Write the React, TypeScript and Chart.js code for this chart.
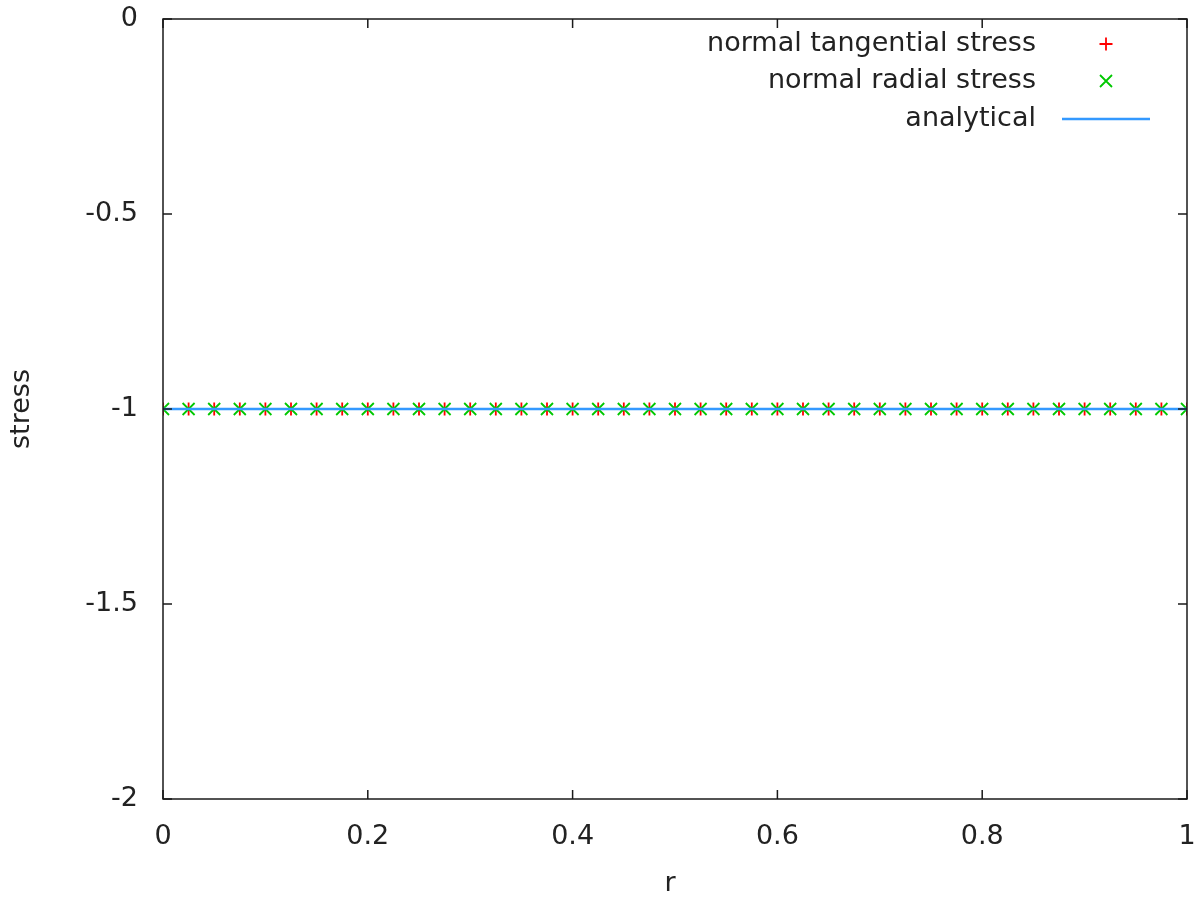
import React, { useEffect, useRef } from "react";
import { Chart, registerables } from "chart.js";

Chart.register(...registerables);

const rValues = [
  0, 0.025, 0.05, 0.075, 0.1, 0.125, 0.15, 0.175, 0.2, 0.225,
  0.25, 0.275, 0.3, 0.325, 0.35, 0.375, 0.4, 0.425, 0.45, 0.475,
  0.5, 0.525, 0.55, 0.575, 0.6, 0.625, 0.65, 0.675, 0.7, 0.725,
  0.75, 0.775, 0.8, 0.825, 0.85, 0.875, 0.9, 0.925, 0.95, 0.975, 1,
];
const tangentialStress = [
  -1, -1, -1, -1, -1, -1, -1, -1, -1, -1,
  -1, -1, -1, -1, -1, -1, -1, -1, -1, -1,
  -1, -1, -1, -1, -1, -1, -1, -1, -1, -1,
  -1, -1, -1, -1, -1, -1, -1, -1, -1, -1, -1,
];
const radialStress = [
  -1, -1, -1, -1, -1, -1, -1, -1, -1, -1,
  -1, -1, -1, -1, -1, -1, -1, -1, -1, -1,
  -1, -1, -1, -1, -1, -1, -1, -1, -1, -1,
  -1, -1, -1, -1, -1, -1, -1, -1, -1, -1, -1,
];
const analyticalR = [0, 1];
const analyticalStress = [-1, -1];

const xTickValues = [0, 0.2, 0.4, 0.6, 0.8, 1];
const yTickValues = [0, -0.5, -1, -1.5, -2];
const xTickLabels = ["0", "0.2", "0.4", "0.6", "0.8", "1"];
const yTickLabels = ["0", "-0.5", "-1", "-1.5", "-2"];

const seriesLabels = ["normal tangential stress", "normal radial stress", "analytical"];
const xTitle = "r";
const yTitle = "stress";

const FONT_FAMILY = "'DejaVu Sans', sans-serif";
const FONT_SIZE = 27;
const TEXT_COLOR = "#222222";
const RED = "#ff0000";
const GREEN = "#00c800";
const BLUE = "#3399ff";

const framePlugin = {
  id: "gnuplotFrame",
  afterDatasetsDraw(chart: any) {
    const { ctx, chartArea } = chart;
    const { left, right, top, bottom } = chartArea;
    const xs = chart.scales.x;
    const ys = chart.scales.y;
    const tl = 9;
    ctx.save();
    ctx.strokeStyle = "#1a1a1a";
    ctx.lineWidth = 1.5;
    ctx.beginPath();
    xTickValues.forEach((v) => {
      const px = xs.getPixelForValue(v);
      ctx.moveTo(px, bottom);
      ctx.lineTo(px, bottom - tl);
      ctx.moveTo(px, top);
      ctx.lineTo(px, top + tl);
    });
    yTickValues.forEach((v) => {
      const py = ys.getPixelForValue(v);
      ctx.moveTo(left, py);
      ctx.lineTo(left + tl, py);
      ctx.moveTo(right, py);
      ctx.lineTo(right - tl, py);
    });
    ctx.stroke();
    ctx.strokeRect(left, top, right - left, bottom - top);

    // axis titles
    ctx.fillStyle = TEXT_COLOR;
    ctx.font = `${FONT_SIZE}px ${FONT_FAMILY}`;
    ctx.textAlign = "center";
    ctx.textBaseline = "middle";
    ctx.fillText(xTitle, (left + right) / 2 - 5, 884);
    ctx.save();
    ctx.translate(22, (top + bottom) / 2);
    ctx.rotate(-Math.PI / 2);
    ctx.fillText(yTitle, 0, 0);
    ctx.restore();

    // legend
    const textRight = 1036;
    const sampleX = 1106;
    const rows = [44, 81, 119];
    ctx.textAlign = "right";
    seriesLabels.forEach((lab, i) => {
      ctx.fillText(lab, textRight, rows[i]);
    });
    const s = 6.5;
    const d = 6;
    ctx.lineWidth = 1.8;
    ctx.strokeStyle = RED;
    ctx.beginPath();
    ctx.moveTo(sampleX - s, rows[0]);
    ctx.lineTo(sampleX + s, rows[0]);
    ctx.moveTo(sampleX, rows[0] - s);
    ctx.lineTo(sampleX, rows[0] + s);
    ctx.stroke();
    ctx.strokeStyle = GREEN;
    ctx.beginPath();
    ctx.moveTo(sampleX - d, rows[1] - d);
    ctx.lineTo(sampleX + d, rows[1] + d);
    ctx.moveTo(sampleX - d, rows[1] + d);
    ctx.lineTo(sampleX + d, rows[1] - d);
    ctx.stroke();
    ctx.strokeStyle = BLUE;
    ctx.lineWidth = 2.5;
    ctx.beginPath();
    ctx.moveTo(1062, rows[2]);
    ctx.lineTo(1150, rows[2]);
    ctx.stroke();
    ctx.restore();
  },
};

export default function App() {
  const canvasRef = useRef<HTMLCanvasElement | null>(null);

  useEffect(() => {
    const canvas = canvasRef.current;
    if (!canvas) return;
    const chart = new Chart(canvas, {
      type: "scatter",
      data: {
        datasets: [
          {
            type: "line",
            label: seriesLabels[2],
            data: analyticalR.map((x, i) => ({ x, y: analyticalStress[i] })),
            borderColor: BLUE,
            borderWidth: 2.5,
            pointRadius: 0,
            showLine: true,
            fill: false,
            order: 0,
          } as any,
          {
            label: seriesLabels[1],
            data: rValues.map((x, i) => ({ x, y: radialStress[i] })),
            pointStyle: "crossRot",
            pointRadius: 8.5,
            borderColor: GREEN,
            backgroundColor: GREEN,
            pointBorderWidth: 1.8,
            order: 1,
          },
          {
            label: seriesLabels[0],
            data: rValues.map((x, i) => ({ x, y: tangentialStress[i] })),
            pointStyle: "cross",
            pointRadius: 6.5,
            borderColor: RED,
            backgroundColor: RED,
            pointBorderWidth: 1.8,
            order: 2,
          },
        ],
      },
      options: {
        responsive: false,
        animation: false,
        events: [],
        layout: { padding: { left: 0, top: 19, right: 11, bottom: 0 } },
        plugins: {
          legend: { display: false },
          tooltip: { enabled: false },
        },
        scales: {
          x: {
            type: "linear",
            min: 0,
            max: 1,
            grid: { display: false, drawTicks: false, tickLength: 0 },
            border: { display: false },
            afterBuildTicks: (scale: any) => {
              scale.ticks = xTickValues.map((v) => ({ value: v }));
            },
            afterFit: (scale: any) => {
              scale.height = 103;
              scale.paddingLeft = 0;
              scale.paddingRight = 0;
            },
            ticks: {
              padding: 22,
              color: TEXT_COLOR,
              font: { family: FONT_FAMILY, size: FONT_SIZE },
              maxRotation: 0,
              autoSkip: false,
              callback: (v: any) => xTickLabels[xTickValues.indexOf(Number(v))] ?? "",
            },
          },
          y: {
            type: "linear",
            min: -2,
            max: 0,
            grid: { display: false, drawTicks: false, tickLength: 0 },
            border: { display: false },
            afterBuildTicks: (scale: any) => {
              scale.ticks = yTickValues.map((v) => ({ value: v }));
            },
            afterFit: (scale: any) => {
              scale.width = 163;
              scale.paddingTop = 0;
              scale.paddingBottom = 0;
            },
            ticks: {
              padding: 25,
              color: TEXT_COLOR,
              font: { family: FONT_FAMILY, size: FONT_SIZE },
              autoSkip: false,
              callback: (v: any) => yTickLabels[yTickValues.indexOf(Number(v))] ?? "",
            },
          },
        },
      },
      plugins: [framePlugin],
    });
    return () => chart.destroy();
  }, []);

  return (
    <div style={{ position: "fixed", left: 0, top: 0, width: 1198, height: 902, background: "#ffffff" }}>
      <canvas ref={canvasRef} width={1198} height={902} style={{ width: 1198, height: 902 }} />
    </div>
  );
}
